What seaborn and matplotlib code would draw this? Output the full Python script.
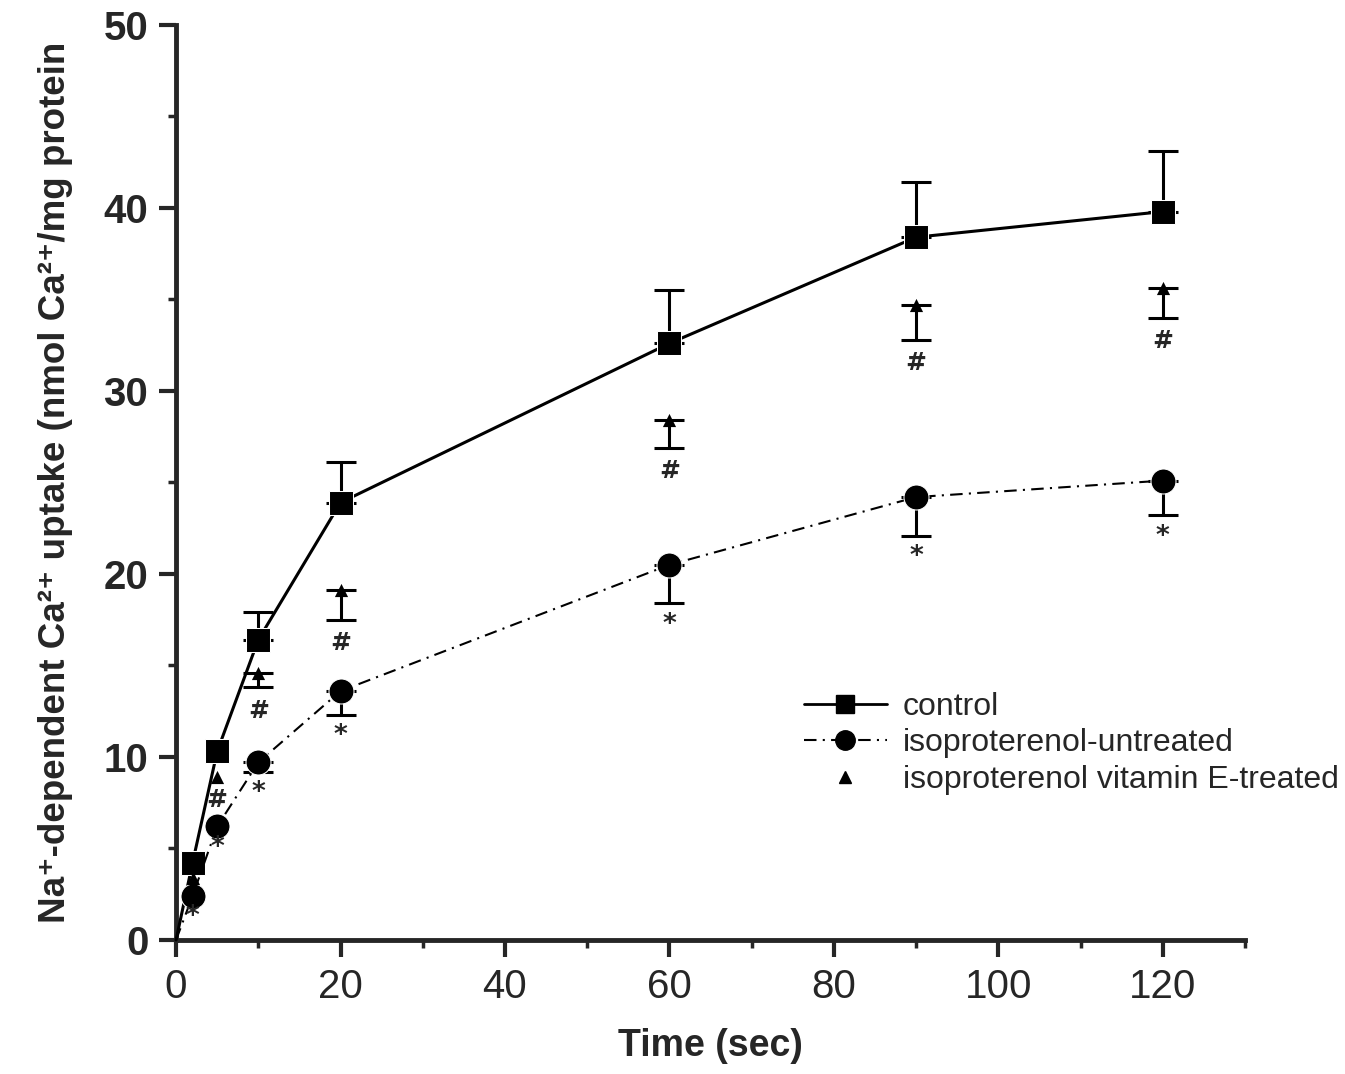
import numpy as np
import pandas as pd
import matplotlib
matplotlib.use("Agg")
import matplotlib.pyplot as plt
from matplotlib.ticker import MultipleLocator
from matplotlib.lines import Line2D
import seaborn as sns

# ---- data ----
time = [0, 2, 5, 10, 20, 60, 90, 120]
control = [0, 4.2, 10.3, 16.4, 23.9, 32.6, 38.4, 39.8]
control_err = [0, 0, 0, 1.5, 2.2, 2.9, 3.0, 3.3]
untreated = [0, 2.4, 6.2, 9.7, 13.6, 20.5, 24.2, 25.1]
untreated_err = [0, 0, 0, 0.5, 1.3, 2.1, 2.1, 1.9]
vitE_time = [2, 5, 10, 20, 60, 90, 120]
vitE = [3.4, 8.9, 14.6, 19.1, 28.4, 34.7, 35.6]
vitE_err = [0, 0, 0.8, 1.6, 1.5, 1.9, 1.6]
hash_times = [5, 10, 20, 60, 90, 120]
star_times = [2, 5, 10, 20, 60, 90, 120]

legend_labels = ["control", "isoproterenol-untreated", "isoproterenol vitamin E-treated"]
xticks = [0, 20, 40, 60, 80, 100, 120]
yticks = [0, 10, 20, 30, 40, 50]

sns.set_theme(style="ticks")
plt.rcParams['font.family'] = ['Liberation Sans', 'DejaVu Sans']

fig = plt.figure(figsize=(13.45, 10.74), dpi=100)
ax = fig.add_axes([0.1309, 0.1248, 0.7948, 0.852])

df_c = pd.DataFrame({"t": time, "v": control})
df_u = pd.DataFrame({"t": time, "v": untreated})
df_e = pd.DataFrame({"t": vitE_time, "v": vitE})

sns.lineplot(data=df_c, x="t", y="v", ax=ax, color="black", lw=2.2,
             marker="s", markersize=17, markevery=list(range(1, len(time))),
             clip_on=False, zorder=3)
sns.lineplot(data=df_u, x="t", y="v", ax=ax, color="black", lw=1.5,
             linestyle=(0, (6, 3, 1, 3)), marker="o", markersize=18,
             markevery=list(range(1, len(time))), clip_on=False, zorder=3)
sns.scatterplot(data=df_e, x="t", y="v", ax=ax, color="black", marker="^",
                s=90, zorder=3, linewidth=0)

# one-sided error bars
c_idx = [i for i in range(len(time)) if control_err[i] > 0]
ax.errorbar([time[i] for i in c_idx], [control[i] for i in c_idx],
            yerr=[[0] * len(c_idx), [control_err[i] for i in c_idx]],
            fmt="none", ecolor="black", elinewidth=2.2, capsize=11, capthick=2.2, zorder=2)
u_idx = [i for i in range(len(time)) if untreated_err[i] > 0]
ax.errorbar([time[i] for i in u_idx], [untreated[i] for i in u_idx],
            yerr=[[untreated_err[i] for i in u_idx], [0] * len(u_idx)],
            fmt="none", ecolor="black", elinewidth=2.2, capsize=11, capthick=2.2, zorder=2)
e_idx = [i for i in range(len(vitE_time)) if vitE_err[i] > 0]
ax.errorbar([vitE_time[i] for i in e_idx], [vitE[i] for i in e_idx],
            yerr=[[vitE_err[i] for i in e_idx], [0] * len(e_idx)],
            fmt="none", ecolor="black", elinewidth=2.2, capsize=11, capthick=2.2, zorder=2)

# significance marks
for t in hash_times:
    i = vitE_time.index(t)
    ax.annotate("#", (t, vitE[i] - vitE_err[i]), xytext=(0, -8), textcoords="offset points",
                ha="center", va="top", fontsize=18, fontweight="bold", family="DejaVu Sans")
for t in star_times:
    i = time.index(t)
    ax.annotate("*", (t, untreated[i] - untreated_err[i]), xytext=(0, -6), textcoords="offset points",
                ha="center", va="top", fontsize=19, fontweight="bold", family="DejaVu Sans")

ax.set_xlim(0, 130)
ax.set_ylim(0, 50)
ax.set_xticks(xticks)
ax.set_yticks(yticks)
ax.xaxis.set_minor_locator(MultipleLocator(10))
ax.yaxis.set_minor_locator(MultipleLocator(5))
ax.tick_params(axis="both", which="major", length=12, width=3, direction="out", pad=8)
ax.tick_params(axis="both", which="minor", length=6, width=2.5, direction="out")
for lab in ax.get_yticklabels():
    lab.set_fontweight("bold")
    lab.set_fontsize(29)
for lab in ax.get_xticklabels():
    lab.set_fontsize(29)
sns.despine(ax=ax)
ax.spines["left"].set_linewidth(3.5)
ax.spines["bottom"].set_linewidth(3.5)

ax.set_xlabel("Time (sec)", fontsize=27, fontweight="bold", labelpad=16)
ax.set_ylabel("Na\u207a-dependent Ca\u00b2\u207a uptake (nmol Ca\u00b2\u207a/mg protein",
              fontsize=26.5, fontweight="bold", labelpad=22)

handles = [
    Line2D([], [], color="black", lw=2, marker="s", markersize=13),
    Line2D([], [], color="black", lw=1.5, linestyle=(0, (6, 3, 1, 3)), marker="o", markersize=14),
    Line2D([], [], color="black", lw=0, marker="^", markersize=9),
]
ax.legend(handles, legend_labels, loc="upper left", bbox_to_anchor=(0.575, 0.285),
          frameon=False, fontsize=23, handlelength=2.6, handletextpad=0.5,
          labelspacing=0.2, borderaxespad=0)

fig.savefig("out.png", dpi=100)
